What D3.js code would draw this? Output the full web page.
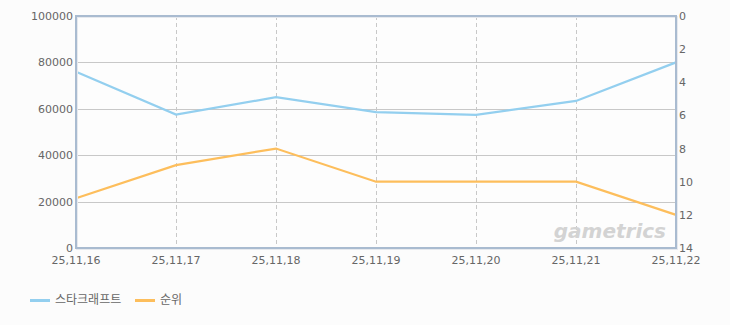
<!DOCTYPE html>
<html>
<head>
<meta charset="utf-8">
<script src="https://cdn.jsdelivr.net/npm/d3@7"></script>
<style>
  body { margin:0; background:#fcfcfc; }
  text { font-family: "DejaVu Sans", "Noto Sans CJK KR", sans-serif; }
</style>
</head>
<body>
<svg class="chart"></svg>
<script>
var dates = ["25,11,16","25,11,17","25,11,18","25,11,19","25,11,20","25,11,21","25,11,22"];
var users = [76000, 57500, 65000, 58600, 57400, 63400, 80000];
var rank = [11, 9, 8, 10, 10, 10, 12];
var leftTicks = [0, 20000, 40000, 60000, 80000, 100000];
var rightTicks = [0, 2, 4, 6, 8, 10, 12, 14];
var seriesNames = ["스타크래프트", "순위"];
var colors = ["#93cfef", "#fdbe5c"];

var makeChart = function()
{
  var width = 730;
  var height = 325;
  var left = 76, right = 676, top = 16, bottom = 248;

  var svg = d3.select(".chart")
    .attr("width", width)
    .attr("height", height);

  var x = d3.scalePoint().domain(dates).range([left, right]);
  var yL = d3.scaleLinear().domain([0, 100000]).range([bottom, top]);
  var yR = d3.scaleLinear().domain([0, 14]).range([top, bottom]);

  // plot background
  svg.append("rect")
     .attr("x", left).attr("y", top)
     .attr("width", right - left).attr("height", bottom - top)
     .attr("fill", "#fdfdfd");

  // horizontal grid
  svg.selectAll(".hgrid")
     .data(leftTicks.slice(1, -1))
     .enter()
     .append("line")
     .attr("x1", left).attr("x2", right)
     .attr("y1", function(d){return Math.round(yL(d)) + 0.5;})
     .attr("y2", function(d){return Math.round(yL(d)) + 0.5;})
     .attr("stroke", "#c8c8c8");

  // vertical dashed grid
  svg.selectAll(".vgrid")
     .data(dates.slice(1, -1))
     .enter()
     .append("line")
     .attr("x1", function(d){return x(d) + 0.5;})
     .attr("x2", function(d){return x(d) + 0.5;})
     .attr("y1", top).attr("y2", bottom)
     .attr("stroke", "#c8c8c8")
     .attr("stroke-dasharray", "4,3");

  // watermark
  svg.append("text")
     .text("gametrics")
     .attr("x", 666).attr("y", 238)
     .attr("text-anchor", "end")
     .attr("font-size", 20)
     .attr("font-weight", "bold")
     .attr("font-style", "italic")
     .attr("fill", "#d3d3d3");

  // lines
  var allSeries = [users, rank];
  var scales = [yL, yR];
  allSeries.forEach(function(s, k){
    var line = d3.line()
      .x(function(d, i){return x(dates[i]);})
      .y(function(d){return scales[k](d);});
    svg.append("path")
       .datum(s)
       .attr("d", line)
       .attr("fill", "none")
       .attr("stroke", colors[k])
       .attr("stroke-width", 2.2);
  });

  // border with shadow
  svg.append("rect")
     .attr("x", left + 1).attr("y", top + 1)
     .attr("width", right - left).attr("height", bottom - top)
     .attr("fill", "none")
     .attr("stroke", "#e6e9ee")
     .attr("stroke-width", 2);
  svg.append("rect")
     .attr("x", left).attr("y", top)
     .attr("width", right - left).attr("height", bottom - top)
     .attr("fill", "none")
     .attr("stroke", "#a9bbd0")
     .attr("stroke-width", 2);

  // left axis labels
  svg.selectAll(".ltick")
     .data(leftTicks)
     .enter()
     .append("text")
     .text(function(d){return d;})
     .attr("x", left - 3)
     .attr("y", function(d){return yL(d) + 4;})
     .attr("text-anchor", "end")
     .attr("font-size", 11)
     .attr("fill", "#666");

  // right axis labels
  svg.selectAll(".rtick")
     .data(rightTicks)
     .enter()
     .append("text")
     .text(function(d){return d;})
     .attr("x", right + 3)
     .attr("y", function(d){return yR(d) + 4;})
     .attr("text-anchor", "start")
     .attr("font-size", 11)
     .attr("fill", "#666");

  // bottom labels
  svg.selectAll(".xtick")
     .data(dates)
     .enter()
     .append("text")
     .text(function(d){return d;})
     .attr("x", function(d){return x(d);})
     .attr("y", 264)
     .attr("text-anchor", "middle")
     .attr("font-size", 11)
     .attr("fill", "#666");

  // legend
  var legX = [30, 135];
  svg.selectAll(".legline")
     .data(seriesNames)
     .enter()
     .append("rect")
     .attr("x", function(d, i){return legX[i];})
     .attr("y", 299)
     .attr("width", 20)
     .attr("height", 3)
     .attr("fill", function(d, i){return colors[i];});

  svg.selectAll(".legtext")
     .data(seriesNames)
     .enter()
     .append("text")
     .text(function(d){return d;})
     .attr("x", function(d, i){return legX[i] + 25;})
     .attr("y", 304)
     .attr("font-size", 12)
     .attr("fill", "#666");
}

makeChart();
</script>
</body>
</html>
